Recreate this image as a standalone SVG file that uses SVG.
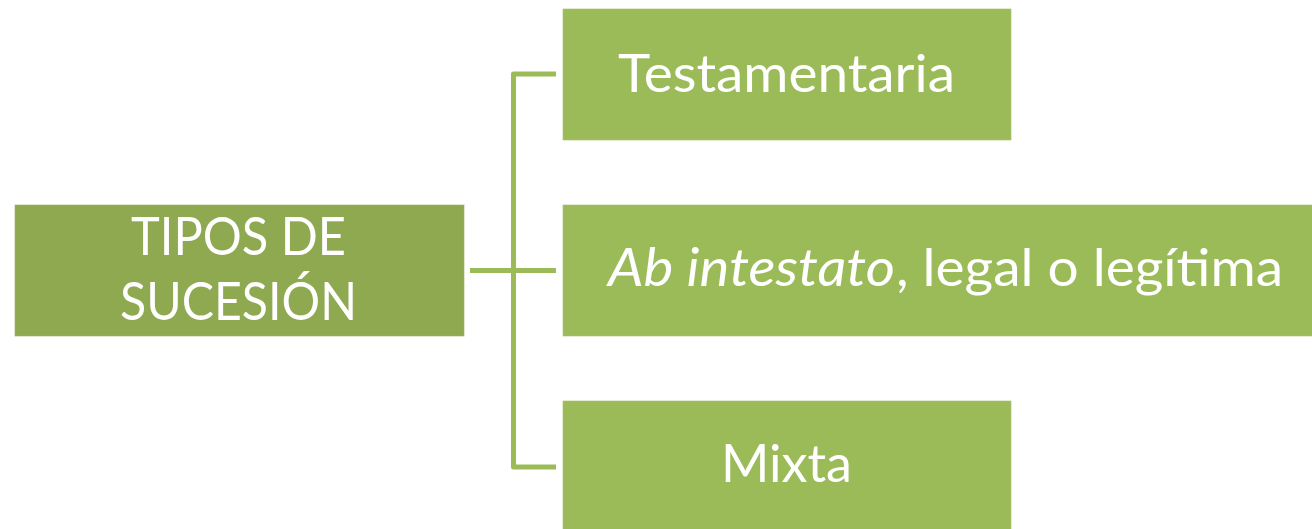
<svg xmlns="http://www.w3.org/2000/svg" width="1312" height="529" viewBox="0 0 1312 529">
<style>
.box{stroke:#ffffff;stroke-opacity:0.45;stroke-width:1.2}
.root{fill:#8EA94F}
.child{fill:#9BBB59}
.lbl{font-family:Lato,"Open Sans","Liberation Sans",sans-serif;font-size:52px;fill:#ffffff}
.conn{fill:none;stroke:#9BBB59;stroke-width:5;stroke-linejoin:round}
</style>
<rect width="1312" height="529" fill="#ffffff"/>
<g id="connectors">
<path class="conn" d="M556,74 H513.5 V467 H556"/>
<path class="conn" d="M470,270.5 H556"/>
</g>
<g id="root">
<rect class="box root" x="14.5" y="204.5" width="450" height="132"/>
<text class="lbl" x="238.5" y="255" text-anchor="middle" textLength="215" lengthAdjust="spacingAndGlyphs">TIPOS DE</text>
<text class="lbl" x="238.5" y="320" text-anchor="middle" textLength="237" lengthAdjust="spacingAndGlyphs">SUCESIÓN</text>
</g>
<g id="testamentaria">
<rect class="box child" x="562.5" y="8.5" width="449" height="132"/>
<text class="lbl" x="786.5" y="91.5" text-anchor="middle" textLength="337" lengthAdjust="spacingAndGlyphs">Testamentaria</text>
</g>
<g id="ab-intestato">
<rect class="box child" x="562.5" y="204.5" width="760" height="132"/>
<text class="lbl" y="286"><tspan x="608" font-style="italic" textLength="287" lengthAdjust="spacingAndGlyphs">Ab intestato</tspan><tspan x="896" textLength="387" lengthAdjust="spacingAndGlyphs">, legal o legítima</tspan></text>
</g>
<g id="mixta">
<rect class="box child" x="562.5" y="400.5" width="449" height="140"/>
<text class="lbl" x="786.5" y="482" text-anchor="middle" textLength="131" lengthAdjust="spacingAndGlyphs">Mixta</text>
</g>
</svg>
